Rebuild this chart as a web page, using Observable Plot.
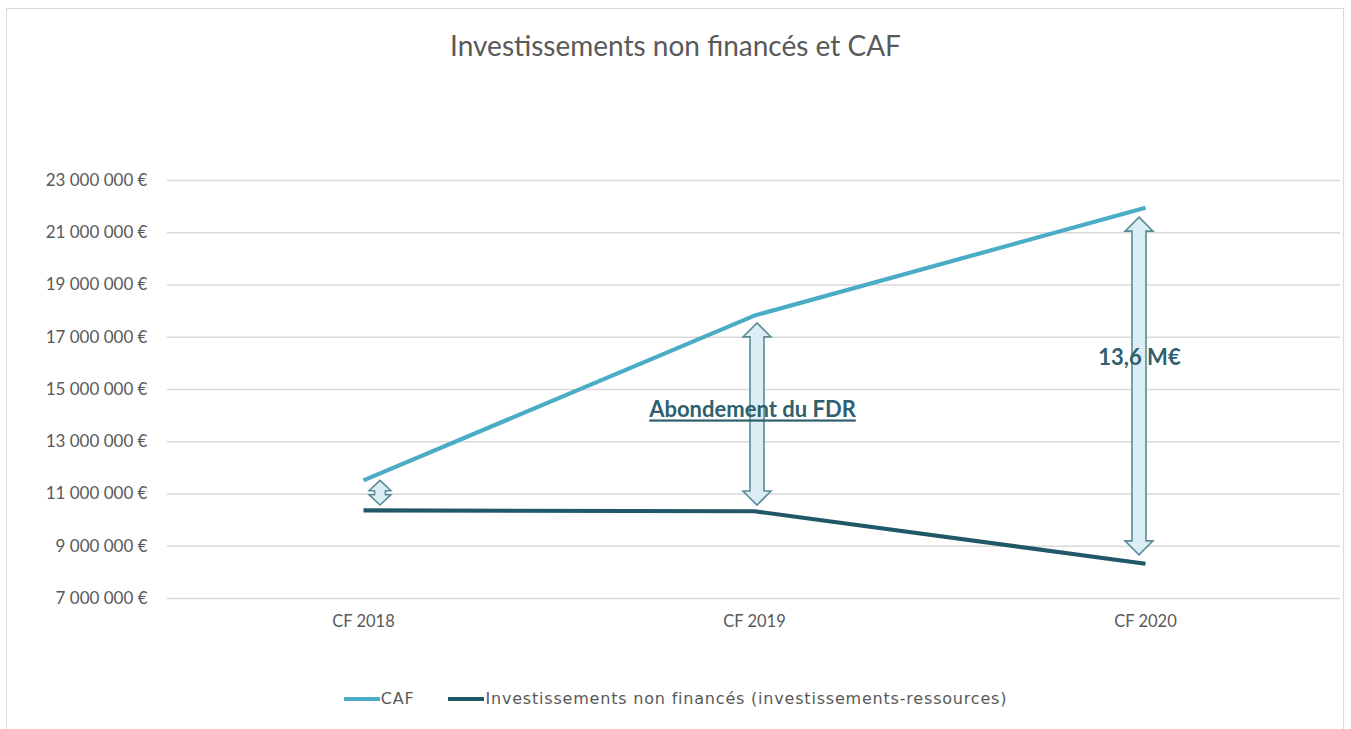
<!DOCTYPE html>
<html>
<head>
<meta charset="utf-8">
<script src="https://cdn.jsdelivr.net/npm/d3@7"></script>
<script src="https://cdn.jsdelivr.net/npm/@observablehq/plot@0.6"></script>
<style>
  body { margin: 0; background: #fff; font-family: Lato, "Open Sans", sans-serif; }
  #wrap { position: relative; width: 1351px; height: 729px; overflow: hidden; }
  #frame { position: absolute; left: 6px; top: 8px; width: 1338px; height: 740px; border: 1px solid #d9d9d9; box-sizing: border-box; }
  #title { position: absolute; top: 28px; left: 0; width: 1351px; text-align: center; font-size: 28px; color: #595959; }
  #chart { position: absolute; left: 0; top: 0; }
  #legend { position: absolute; top: 689px; left: 0; width: 1351px; display: flex; justify-content: center; gap: 34px; font-family: "DejaVu Sans", sans-serif; font-size: 16px; letter-spacing: 0.8px; color: #595959; }
  .item { display: flex; align-items: center; }
  .sw { width: 36px; height: 4px; margin-right: 1px; }
</style>
</head>
<body>
<div id="wrap">
  <div id="frame"></div>
  <div id="title">Investissements non financés et CAF</div>
  <div id="chart"></div>
  <div id="legend"></div>
</div>
<script>
const categories = ["CF 2018", "CF 2019", "CF 2020"];
const cafValues = [11520000, 17830000, 21960000];
const investValues = [10370000, 10340000, 8330000];
const seriesNames = ["CAF", "Investissements non financés (investissements-ressources)"];
const yTicks = [7000000, 9000000, 11000000, 13000000, 15000000, 17000000, 19000000, 21000000, 23000000];
const arrowTop = [11500000, 17530000, 21580000];
const arrowBottom = [10560000, 10560000, 8650000];
const annotationLabels = ["Abondement du FDR", "13,6 M€"];
const annotationCategories = ["CF 2019", "CF 2020"];
const annotationValues = [14200000, 16200000];

const colors = {CAF: "#4bacc6", inv: "#215868"};

const cafData = categories.map((c, i) => ({cat: c, v: cafValues[i]}));
const invData = categories.map((c, i) => ({cat: c, v: investValues[i]}));
const arrowData = categories.map((c, i) => ({cat: c, top: arrowTop[i], bottom: arrowBottom[i]}));
const arrowDx = [17, 3, -6];
const annDx = [-2, -6];
const annData = annotationLabels.map((t, i) => ({t, cat: annotationCategories[i], v: annotationValues[i]}));

const fmt = d => d3.format(",")(d).replace(/,/g, " ") + " €";

function arrowMark(...args) {
  const scales = args.find(a => a && typeof a.x === "function" && typeof a.y === "function");
  const g = d3.create("svg:g");
  arrowData.forEach((d, i) => {
    const x = scales.x(d.cat) + arrowDx[i];
    const y1 = scales.y(d.top), y2 = scales.y(d.bottom);
    const len = y2 - y1;
    const k = len < 60 ? 0.78 : 1;
    const hl = Math.min(14, len * 0.42), hw = 14 * k, sw = 7 * k;
    const p = [
      [x, y1], [x + hw, y1 + hl], [x + sw, y1 + hl], [x + sw, y2 - hl], [x + hw, y2 - hl],
      [x, y2], [x - hw, y2 - hl], [x - sw, y2 - hl], [x - sw, y1 + hl], [x - hw, y1 + hl]
    ];
    g.append("path")
      .attr("d", "M" + p.map(q => q.join(",")).join("L") + "Z")
      .attr("fill", "#dbeef4")
      .attr("stroke", "#5a8c99")
      .attr("stroke-width", 1.6)
      .attr("stroke-linejoin", "miter");
  });
  return g.node();
}

const plot = Plot.plot({
  width: 1351,
  height: 660,
  marginLeft: 167,
  marginRight: 11,
  marginTop: 180,
  marginBottom: 62,
  style: {fontFamily: "Lato, 'Open Sans', sans-serif", fontSize: "16.5px", color: "#595959", background: "transparent"},
  x: {type: "point", domain: categories, padding: 0.5, label: null, tickSize: 0, tickPadding: 17},
  y: {domain: [7000000, 23000000], ticks: yTicks, tickFormat: fmt, label: null, tickSize: 0, tickPadding: 20},
  marks: [
    Plot.ruleY(yTicks, {stroke: "#d9d9d9", strokeWidth: 1.3, strokeOpacity: 1}),
    Plot.line(cafData, {x: "cat", y: "v", stroke: colors.CAF, strokeWidth: 4.2, strokeLinecap: "butt", strokeLinejoin: "round"}),
    Plot.line(invData, {x: "cat", y: "v", stroke: colors.inv, strokeWidth: 4.2, strokeLinecap: "butt", strokeLinejoin: "round"}),
    arrowMark,
    ...annData.map((d, i) => Plot.text([d], {x: "cat", y: "v", text: "t", dx: annDx[i], fill: "#2f5f6e", fontWeight: "bold", fontSize: 22}))
  ]
});
d3.select(plot).selectAll("g[aria-label='y-axis tick label'] text, g[aria-label='y-axis'] text").style("font-size", "17px");
d3.select(plot).selectAll("text").filter(function() { return this.textContent === "Abondement du FDR"; })
  .style("text-decoration", "underline");
document.getElementById("chart").appendChild(plot);

const legend = document.getElementById("legend");
[[seriesNames[0], colors.CAF], [seriesNames[1], colors.inv]].forEach(([name, c]) => {
  const it = document.createElement("div");
  it.className = "item";
  const sw = document.createElement("div");
  sw.className = "sw"; sw.style.background = c;
  const tx = document.createElement("span");
  tx.textContent = name;
  it.appendChild(sw); it.appendChild(tx);
  legend.appendChild(it);
});
</script>
</body>
</html>
